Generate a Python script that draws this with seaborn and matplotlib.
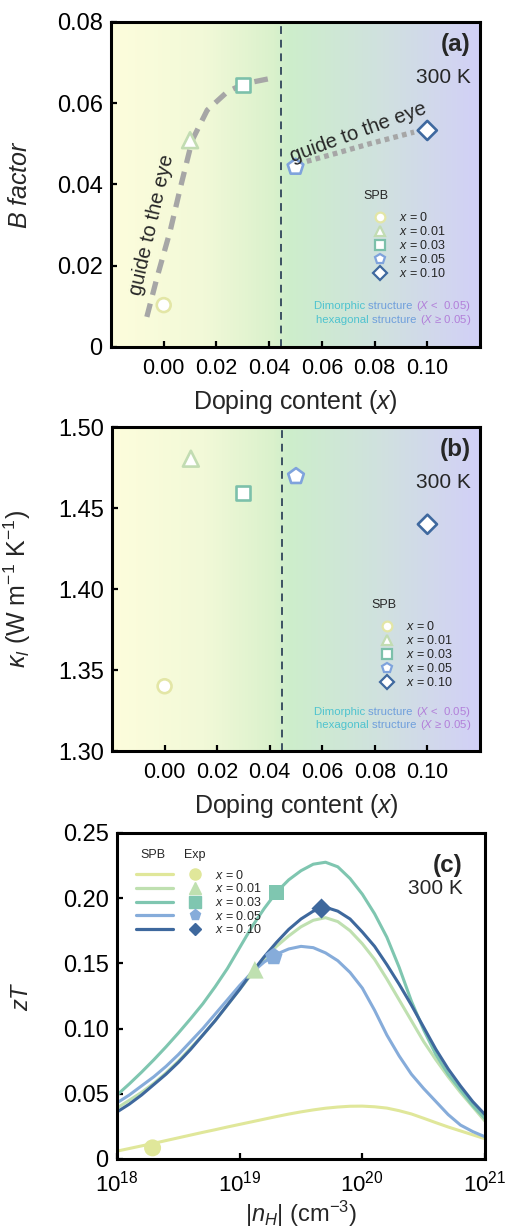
import numpy as np
import pandas as pd
import matplotlib
matplotlib.use("Agg")
import matplotlib.pyplot as plt
import matplotlib.transforms as mtransforms
from matplotlib.colors import LinearSegmentedColormap
from matplotlib.lines import Line2D
from matplotlib.legend_handler import HandlerTuple
import seaborn as sns

# ---------------- data ----------------
doping = [0.0, 0.01, 0.03, 0.05, 0.10]
series_labels = ["x = 0", "x = 0.01", "x = 0.03", "x = 0.05", "x = 0.10"]
legend_labels = [r"$x$ = 0", r"$x$ = 0.01", r"$x$ = 0.03", r"$x$ = 0.05", r"$x$ = 0.10"]
b_factor = [0.0103, 0.0509, 0.0644, 0.0443, 0.0533]
kappa_l = [1.340, 1.4805, 1.4595, 1.4696, 1.440]

guide1_x = [-0.0064, -0.0025, 0.0025, 0.0064, 0.0108, 0.0165, 0.0241, 0.0305, 0.042]
guide1_y = [0.0074, 0.0172, 0.0287, 0.0394, 0.0509, 0.0583, 0.0628, 0.0648, 0.0663]
guide2_x = [0.051, 0.065, 0.078, 0.095]
guide2_y = [0.0451, 0.0476, 0.0500, 0.0529]
phase_boundary = 0.0445

log_n = [18.0, 18.1, 18.2, 18.3, 18.4, 18.5, 18.6, 18.7, 18.8, 18.9,
         19.0, 19.1, 19.2, 19.3, 19.4, 19.5, 19.6, 19.7, 19.8, 19.9,
         20.0, 20.1, 20.2, 20.3, 20.4, 20.5, 20.6, 20.7, 20.8, 20.9, 21.0]
zt_x0 = [0.0060, 0.0080, 0.0100, 0.0120, 0.0141, 0.0162, 0.0183, 0.0204, 0.0224, 0.0245,
         0.0265, 0.0285, 0.0305, 0.0325, 0.0344, 0.0361, 0.0376, 0.0389, 0.0398, 0.0404,
         0.0405, 0.0400, 0.0390, 0.0370, 0.0345, 0.0312, 0.0278, 0.0245, 0.0215, 0.0185, 0.0155]
zt_x001 = [0.039, 0.045, 0.051, 0.058, 0.066, 0.075, 0.085, 0.095, 0.106, 0.118,
           0.130, 0.142, 0.153, 0.163, 0.171, 0.178, 0.183, 0.185, 0.182, 0.175,
           0.165, 0.153, 0.138, 0.122, 0.106, 0.090, 0.076, 0.063, 0.051, 0.040, 0.029]
zt_x003 = [0.049, 0.0575, 0.0665, 0.076, 0.086, 0.0965, 0.1075, 0.119, 0.132, 0.146,
           0.162, 0.178, 0.192, 0.2045, 0.214, 0.221, 0.226, 0.2275, 0.224, 0.215,
           0.203, 0.188, 0.170, 0.147, 0.121, 0.099, 0.080, 0.065, 0.053, 0.041, 0.031]
zt_x005 = [0.043, 0.049, 0.056, 0.063, 0.071, 0.080, 0.090, 0.100, 0.111, 0.122,
           0.133, 0.143, 0.151, 0.157, 0.161, 0.163, 0.162, 0.158, 0.152, 0.143,
           0.131, 0.114, 0.095, 0.079, 0.065, 0.054, 0.044, 0.034, 0.026, 0.021, 0.017]
zt_x010 = [0.036, 0.042, 0.049, 0.057, 0.065, 0.074, 0.084, 0.095, 0.106, 0.118,
           0.130, 0.143, 0.155, 0.166, 0.176, 0.184, 0.190, 0.193, 0.190, 0.184,
           0.174, 0.163, 0.149, 0.134, 0.118, 0.101, 0.084, 0.069, 0.056, 0.044, 0.034]

exp_n = [1.95e18, 1.33e19, 2.0e19, 1.9e19, 4.65e19]
exp_zt = [0.0085, 0.145, 0.2045, 0.155, 0.192]

ytick_a = [0, 0.02, 0.04, 0.06, 0.08]
ytick_a_lab = ["0", "0.02", "0.04", "0.06", "0.08"]
ytick_b = [1.30, 1.35, 1.40, 1.45, 1.50]
ytick_b_lab = ["1.30", "1.35", "1.40", "1.45", "1.50"]
xtick_ab = [0.0, 0.02, 0.04, 0.06, 0.08, 0.10]
xtick_ab_lab = ["0.00", "0.02", "0.04", "0.06", "0.08", "0.10"]
ytick_c = [0, 0.05, 0.10, 0.15, 0.20, 0.25]
ytick_c_lab = ["0", "0.05", "0.10", "0.15", "0.20", "0.25"]
xtick_c = [1e18, 1e19, 1e20, 1e21]
xtick_c_lab = [r"$10^{18}$", r"$10^{19}$", r"$10^{20}$", r"$10^{21}$"]

# ---------------- style ----------------
sns.set_theme(style="ticks")
plt.rcParams["font.family"] = ["Liberation Sans", "DejaVu Sans"]
plt.rcParams["mathtext.fontset"] = "custom"
plt.rcParams["mathtext.rm"] = "Liberation Sans"
plt.rcParams["mathtext.it"] = "Liberation Sans:italic"
plt.rcParams["mathtext.bf"] = "Liberation Sans:bold"
plt.rcParams["axes.linewidth"] = 2.2

edge_cols = ["#e3e6a6", "#c2dcb2", "#7cc0aa", "#7fa3dc", "#3f699f"]
line_cols = ["#e0e79a", "#bfe0b0", "#7fc6b0", "#86acda", "#3e689d"]
markers = ["o", "^", "s", "p", "D"]
open_sizes = [100, 130, 100, 140, 95]
fill_sizes = [150, 160, 120, 175, 105]

bg_cmap = LinearSegmentedColormap.from_list(
    "bg", [(0.0, "#fdfddc"), (0.25, "#f2f9d8"), (0.44, "#daf1cc"), (0.48, "#cdeecb"),
           (0.72, "#d0e2de"), (1.0, "#d2d0f7")])

fig = plt.figure(figsize=(5.08, 12.29), dpi=100)
ax_a = fig.add_axes([0.2185, 0.7177, 0.7264, 0.2644])
ax_b = fig.add_axes([0.2205, 0.3889, 0.7244, 0.2636])
ax_c = fig.add_axes([0.2303, 0.0570, 0.7244, 0.2653])
renderer = fig.canvas.get_renderer()


def rainbow_right(ax, xr, y, pieces, fs):
    texts, widths = [], []
    for s, c in pieces:
        t = ax.text(xr, y, s, color=c, fontsize=fs, transform=ax.transAxes,
                    va="baseline", ha="left")
        widths.append(t.get_window_extent(renderer).width)
        texts.append(t)
    off = -sum(widths)
    for t, w in zip(texts, widths):
        t.set_transform(mtransforms.offset_copy(ax.transAxes, x=off, y=0, units="dots"))
        off += w


def style_axis(ax):
    ax.tick_params(direction="in", length=4.5, width=1.6, colors="black",
                   top=False, right=False)
    for sp in ax.spines.values():
        sp.set_linewidth(2.2)
        sp.set_color("black")


def doping_panel(ax, yvals, ylim, yticks, ylabs, ylabel, tag, struct_y, leg_xy, spb_xy):
    xmin, xmax = -0.02, 0.12
    grad = np.linspace(0, 1, 256).reshape(1, -1)
    ax.imshow(grad, extent=(xmin, xmax, ylim[0], ylim[1]), aspect="auto",
              cmap=bg_cmap, zorder=0, interpolation="bicubic")
    ax.axvline(phase_boundary, color="#3b5163", lw=1.4, dashes=(4, 3), zorder=1)
    df = pd.DataFrame({"x": doping, "y": yvals, "series": series_labels})
    sns.scatterplot(data=df, x="x", y="y", hue="series", style="series", size="series",
                    hue_order=series_labels, palette=edge_cols,
                    markers=dict(zip(series_labels, markers)),
                    sizes=dict(zip(series_labels, open_sizes)),
                    legend=False, ax=ax, zorder=4)
    pc = ax.collections[-1]
    pc.set_facecolors("white")
    pc.set_edgecolors(edge_cols)
    pc.set_linewidths(1.9)
    ax.set_xlim(xmin, xmax)
    ax.set_ylim(*ylim)
    ax.set_xticks(xtick_ab, xtick_ab_lab)
    ax.set_yticks(yticks, ylabs)
    ax.tick_params(axis="x", labelsize=15.5, pad=8)
    ax.tick_params(axis="y", labelsize=17, pad=6)
    style_axis(ax)
    ax.set_xlabel(r"Doping content ($x$)", fontsize=18)
    ax.xaxis.set_label_coords(0.5, -0.125)
    ax.set_ylabel(ylabel, fontsize=18)
    ax.yaxis.set_label_coords(-0.215, 0.5)
    ax.text(0.975, 0.93, tag, transform=ax.transAxes, ha="right", va="center",
            fontsize=17.5, fontweight="bold")
    ax.text(0.975, 0.83, "300 K", transform=ax.transAxes, ha="right", va="center",
            fontsize=15)
    ax.text(spb_xy[0], spb_xy[1], "SPB", transform=ax.transAxes, ha="center",
            va="center", fontsize=9)
    handles = [Line2D([], [], ls="", marker=m, markersize=7, markerfacecolor="white",
                      markeredgecolor=c, markeredgewidth=1.6)
               for m, c in zip(markers, edge_cols)]
    ax.legend(handles, legend_labels, loc="upper left", bbox_to_anchor=leg_xy,
              frameon=False, fontsize=9, handlelength=1.0, handletextpad=1.0,
              borderpad=0, borderaxespad=0, labelspacing=0.08)
    rainbow_right(ax, 0.975, struct_y[0],
                  [("Dimorphic ", "#4fc3cf"), ("structure ", "#6f9fdc"),
                   (r"($X$ <  0.05)", "#b27fd9")], 8.2)
    rainbow_right(ax, 0.975, struct_y[1],
                  [("hexagonal ", "#4fc3cf"), ("structure ", "#6f9fdc"),
                   (r"($X$ ≥ 0.05)", "#b27fd9")], 8.2)


# ---------------- (a) ----------------
doping_panel(ax_a, b_factor, (0, 0.08), ytick_a, ytick_a_lab, r"$B$ $factor$", "(a)",
             (0.118, 0.074), (0.712, 0.418), (0.718, 0.465))
ax_a.plot(guide1_x, guide1_y, color="#a6a6a6", lw=3.8, dashes=(2.6, 1.7),
          solid_capstyle="butt", zorder=3)
ax_a.plot(guide2_x, guide2_y, color="#a6a6a6", lw=3.8, dashes=(0.9, 0.8),
          solid_capstyle="butt", zorder=3)
ax_a.text(-0.0045, 0.0300, "guide to the eye", fontsize=14.5, rotation=77,
          ha="center", va="center", rotation_mode="anchor", zorder=5)
ax_a.text(0.0737, 0.0529, "guide to the eye", fontsize=14.5, rotation=20,
          ha="center", va="center", rotation_mode="anchor", zorder=5)

# ---------------- (b) ----------------
doping_panel(ax_b, kappa_l, (1.30, 1.50), ytick_b, ytick_b_lab,
             r"$\kappa_l$ (W m$^{-1}$ K$^{-1}$)", "(b)",
             (0.112, 0.070), (0.730, 0.404), (0.738, 0.45))

# ---------------- (c) ----------------
curves = [zt_x0, zt_x001, zt_x003, zt_x005, zt_x010]
rows = []
for lab, zt in zip(series_labels, curves):
    for ln, z in zip(log_n, zt):
        rows.append({"n": 10 ** ln, "zT": z, "series": lab})
df_c = pd.DataFrame(rows)
ax_c.set_xscale("log")
sns.lineplot(data=df_c, x="n", y="zT", hue="series", hue_order=series_labels,
             palette=line_cols, lw=2.2, legend=False, errorbar=None, ax=ax_c)
df_e = pd.DataFrame({"n": exp_n, "zT": exp_zt, "series": series_labels})
sns.scatterplot(data=df_e, x="n", y="zT", hue="series", style="series", size="series",
                hue_order=series_labels, palette=line_cols,
                markers=dict(zip(series_labels, markers)),
                sizes=dict(zip(series_labels, fill_sizes)),
                legend=False, ax=ax_c, zorder=4, linewidth=0)
ax_c.set_xlim(1e18, 1e21)
ax_c.set_ylim(0, 0.25)
ax_c.set_xticks(xtick_c, xtick_c_lab)
ax_c.xaxis.set_minor_locator(matplotlib.ticker.NullLocator())
ax_c.set_yticks(ytick_c, ytick_c_lab)
ax_c.tick_params(axis="x", labelsize=16, pad=8.5)
ax_c.tick_params(axis="y", labelsize=17, pad=6)
style_axis(ax_c)
ax_c.set_xlabel(r"|$n_H$| (cm$^{-3}$)", fontsize=17)
ax_c.xaxis.set_label_coords(0.5, -0.122)
ax_c.set_ylabel(r"$zT$", fontsize=17)
ax_c.yaxis.set_label_coords(-0.228, 0.5)
ax_c.text(0.94, 0.90, "(c)", transform=ax_c.transAxes, ha="right", va="center",
          fontsize=17.5, fontweight="bold")
ax_c.text(0.94, 0.83, "300 K", transform=ax_c.transAxes, ha="right", va="center",
          fontsize=15)
ax_c.text(0.098, 0.933, "SPB", transform=ax_c.transAxes, ha="center", va="center", fontsize=9)
ax_c.text(0.212, 0.933, "Exp", transform=ax_c.transAxes, ha="center", va="center", fontsize=9)
handles_c = []
for m, c in zip(markers, line_cols):
    l = Line2D([], [], color=c, lw=2.3)
    p = Line2D([], [], ls="", marker=m, markersize=8 if m != "D" else 6.5,
               markerfacecolor=c, markeredgecolor=c)
    handles_c.append((l, p))
ax_c.legend(handles_c, legend_labels, loc="upper left", bbox_to_anchor=(0.0516, 0.89),
            frameon=False, fontsize=9, handlelength=6.2, handletextpad=0.1,
            borderpad=0, borderaxespad=0, labelspacing=0.05,
            handler_map={tuple: HandlerTuple(ndivide=2, pad=0.28)})

fig.savefig("out.png", dpi=100)
